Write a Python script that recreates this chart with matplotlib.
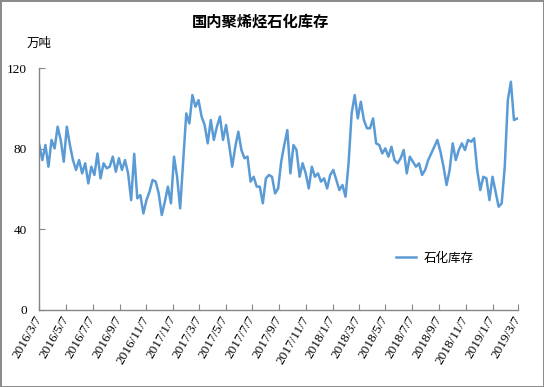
import pandas as pd
import matplotlib
matplotlib.use('Agg')
import matplotlib.pyplot as plt

plt.rcParams['font.family'] = ['Noto Sans CJK SC', 'DejaVu Sans']

# weekly readings (Mondays), 万吨
start_date = '2016-03-07'
stock = [
    81.9, 74.4, 81.9, 71.1, 84.4, 80.2, 91.0, 84.4, 73.6, 91.0,
    81.9, 74.4, 69.5, 74.4, 67.8, 72.8, 62.8, 71.1, 67.0, 77.7,
    65.3, 72.8, 70.3, 71.1, 76.1, 68.6, 75.3, 69.5, 74.4, 67.8,
    54.5, 77.5, 55.4, 57.0, 47.9, 54.5, 58.7, 64.5, 63.7, 57.8,
    47.1, 53.7, 61.2, 52.9, 76.1, 66.1, 50.4, 74.4, 97.6, 92.6,
    106.7, 100.9, 104.2, 96.0, 91.8, 82.7, 94.3, 84.4, 91.0, 96.0,
    84.4, 91.8, 81.9, 71.1, 81.0, 88.5, 79.4, 75.3, 76.1, 63.7,
    66.1, 61.2, 61.2, 52.9, 65.3, 67.0, 66.1, 57.8, 60.3, 73.6,
    81.9, 89.3, 67.8, 81.9, 79.4, 66.1, 72.8, 67.8, 60.3, 71.1,
    66.1, 67.8, 63.7, 65.3, 60.3, 67.0, 69.5, 64.5, 59.5, 62.0,
    56.2, 72.8, 97.6, 106.7, 95.1, 103.4, 94.3, 90.2, 90.2, 95.1,
    82.7, 81.9, 77.7, 80.2, 76.1, 81.0, 74.4, 72.8, 75.3, 79.4,
    67.8, 76.1, 73.6, 71.1, 72.8, 67.0, 69.5, 74.4, 77.7, 81.0,
    84.4, 78.6, 71.1, 62.0, 69.5, 82.7, 74.4, 79.4, 82.7, 79.4,
    84.4, 83.5, 85.2, 69.5, 59.5, 66.1, 65.3, 54.5, 66.1, 58.7,
    51.2, 52.9, 71.1, 104.2, 113.3, 94.3, 95.0,
]
dates = pd.date_range(start_date, periods=len(stock), freq='7D')

tick_labels = ['2016/3/7', '2016/5/7', '2016/7/7', '2016/9/7', '2016/11/7',
               '2017/1/7', '2017/3/7', '2017/5/7', '2017/7/7', '2017/9/7',
               '2017/11/7', '2018/1/7', '2018/3/7', '2018/5/7', '2018/7/7',
               '2018/9/7', '2018/11/7', '2019/1/7', '2019/3/7']
tick_dates = pd.to_datetime(tick_labels, format='%Y/%m/%d')

fig = plt.figure(figsize=(5.44, 3.87), dpi=100)
fig.patch.set_edgecolor('#8c8c8c')
fig.patch.set_linewidth(2)

ax = fig.add_axes([0.0722, 0.1995, 0.8806, 0.6240])
ax.plot(dates, stock, color='#5B9BD5', lw=1.8, label='石化库存')

ax.set_xlim(tick_dates[0], tick_dates[-1])
ax.set_ylim(0, 120)
ax.set_yticks([0, 40, 80, 120])
ax.set_xticks(tick_dates)
ax.set_xticklabels(tick_labels, rotation=60, ha='right', va='center',
                   rotation_mode='anchor', family='Liberation Serif', fontsize=9.5)
for lab in ax.get_yticklabels():
    lab.set_family('Liberation Serif')
    lab.set_fontsize(9.5)

for s in ['top', 'right']:
    ax.spines[s].set_visible(False)
for s in ['left', 'bottom']:
    ax.spines[s].set_color('#868686')
    ax.spines[s].set_linewidth(1)
ax.tick_params(axis='both', direction='in', length=4, color='#868686')
ax.tick_params(axis='y', pad=9)
ax.tick_params(axis='x', pad=5)

fig.text(0.478, 0.944, '国内聚烯烃石化库存', ha='center', va='center',
         fontsize=11, weight='bold')
fig.text(0.0726, 0.889, '万吨', ha='center', va='center', fontsize=9)

ax.legend(loc='center left', bbox_to_anchor=(0.745, 0.214), frameon=False,
          fontsize=9, handlelength=1.6, handletextpad=0.6,
          borderaxespad=0, borderpad=0)

fig.savefig('out.png', dpi=100)
